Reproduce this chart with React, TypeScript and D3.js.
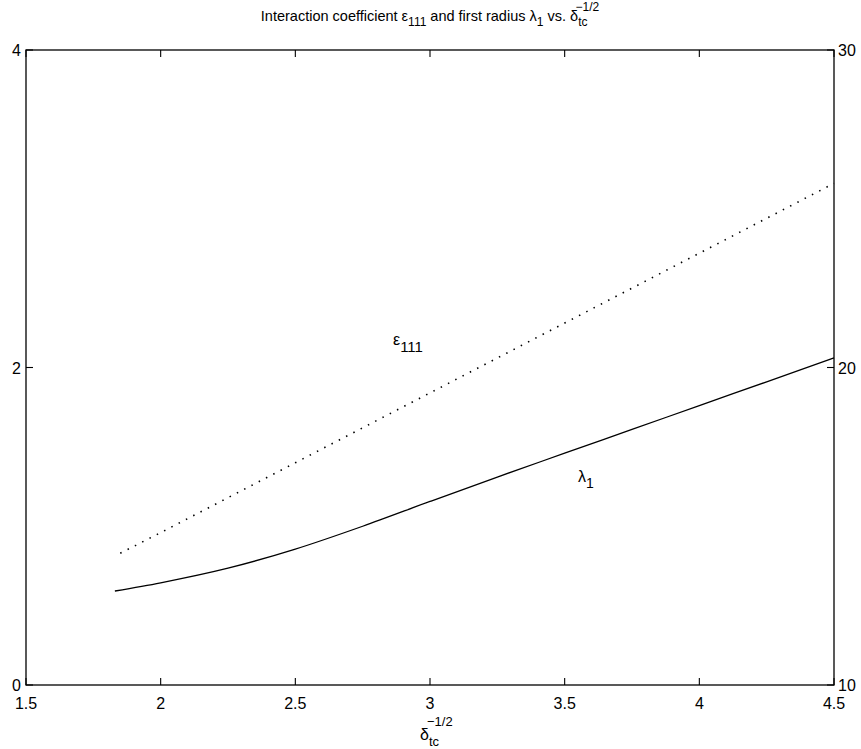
import React from "react";
import * as d3 from "d3";

const xTicks = [1.5, 2, 2.5, 3, 3.5, 4, 4.5];
const xTickLabels = ["1.5", "2", "2.5", "3", "3.5", "4", "4.5"];
const yLeftTicks = [0, 2, 4];
const yRightTicks = [10, 20, 30];

// epsilon_111 (left axis)
const epsX = [1.85, 2.0, 2.25, 2.5, 2.75, 3.0, 3.25, 3.5, 3.75, 4.0, 4.25, 4.5];
const epsY = [0.83, 0.96, 1.18, 1.40, 1.62, 1.84, 2.06, 2.28, 2.50, 2.72, 2.94, 3.16];

// lambda_1 (right axis)
const lamX = [1.83, 2.0, 2.25, 2.5, 2.75, 3.0, 3.25, 3.5, 3.75, 4.0, 4.25, 4.5];
const lamY = [12.96, 13.22, 13.68, 14.28, 15.0, 15.78, 16.55, 17.3, 18.05, 18.8, 19.55, 20.3];

const W = 861;
const H = 749;
const L = 26, R = 834, T = 50, B = 685;
const font = "'Liberation Sans', Arial, Helvetica, sans-serif";

export default function App() {
  const x = d3.scaleLinear().domain([1.5, 4.5]).range([L, R]);
  const yl = d3.scaleLinear().domain([0, 4]).range([B, T]);
  const yr = d3.scaleLinear().domain([10, 30]).range([B, T]);

  const epsLine = d3
    .line<number>()
    .x((_, i) => x(epsX[i]))
    .y((d) => yl(d))
    .curve(d3.curveMonotoneX)(epsY) as string;
  const lamLine = d3
    .line<number>()
    .x((_, i) => x(lamX[i]))
    .y((d) => yr(d))
    .curve(d3.curveMonotoneX)(lamY) as string;

  const tk = 7;
  return (
    <svg
      width={W}
      height={H}
      style={{ position: "absolute", left: 0, top: 0, background: "#fff" }}
      fontFamily={font}
    >
      <rect x={0} y={0} width={W} height={H} fill="#fff" />
      {/* title */}
      <text x={430} y={21} fontSize={14.5} textAnchor="middle" fill="#000">
        Interaction coefficient ε
        <tspan dy={5} fontSize={12}>111</tspan>
        <tspan dy={-5}> and first radius λ</tspan>
        <tspan dy={5} fontSize={12}>1</tspan>
        <tspan dy={-5}> vs. δ</tspan>
        <tspan dy={5} fontSize={12}>tc</tspan>
        <tspan dx={-12} dy={-15} fontSize={12}>−1/2</tspan>
      </text>

      {/* box */}
      <rect x={L} y={T} width={R - L} height={B - T} fill="none" stroke="#000" strokeWidth={1.3} />

      {/* x ticks */}
      {xTicks.map((t, i) => (
        <g key={"xt" + i}>
          <line x1={x(t)} x2={x(t)} y1={B} y2={B - tk} stroke="#000" strokeWidth={1.1} />
          <line x1={x(t)} x2={x(t)} y1={T} y2={T + tk} stroke="#000" strokeWidth={1.1} />
          <text x={x(t)} y={709} fontSize={16} textAnchor="middle" fill="#000">
            {xTickLabels[i]}
          </text>
        </g>
      ))}
      {/* left ticks */}
      {yLeftTicks.map((t) => (
        <g key={"yl" + t}>
          <line x1={L} x2={L + tk} y1={yl(t)} y2={yl(t)} stroke="#000" strokeWidth={1.1} />
          <text x={L - 5} y={yl(t) + 6} fontSize={16} textAnchor="end" fill="#000">
            {t}
          </text>
        </g>
      ))}
      {/* right ticks */}
      {yRightTicks.map((t) => (
        <g key={"yr" + t}>
          <line x1={R} x2={R - tk} y1={yr(t)} y2={yr(t)} stroke="#000" strokeWidth={1.1} />
          <text x={R + 4} y={yr(t) + 6} fontSize={16} textAnchor="start" fill="#000">
            {t}
          </text>
        </g>
      ))}

      {/* curves */}
      <path d={epsLine} fill="none" stroke="#000" strokeWidth={1.6} strokeDasharray="1.5 6.7" />
      <path d={lamLine} fill="none" stroke="#000" strokeWidth={1.3} />

      {/* curve labels */}
      <text x={393} y={345} fontSize={16} fill="#000">
        ε<tspan dy={7} fontSize={15}>111</tspan>
      </text>
      <text x={578} y={482} fontSize={16} fill="#000">
        λ<tspan dy={6} fontSize={14}>1</tspan>
      </text>

      {/* x label */}
      <text x={420} y={740} fontSize={16} fill="#000">
        δ<tspan dy={6} fontSize={13}>tc</tspan>
        <tspan dx={-12} dy={-20} fontSize={13}>−1/2</tspan>
      </text>
    </svg>
  );
}
